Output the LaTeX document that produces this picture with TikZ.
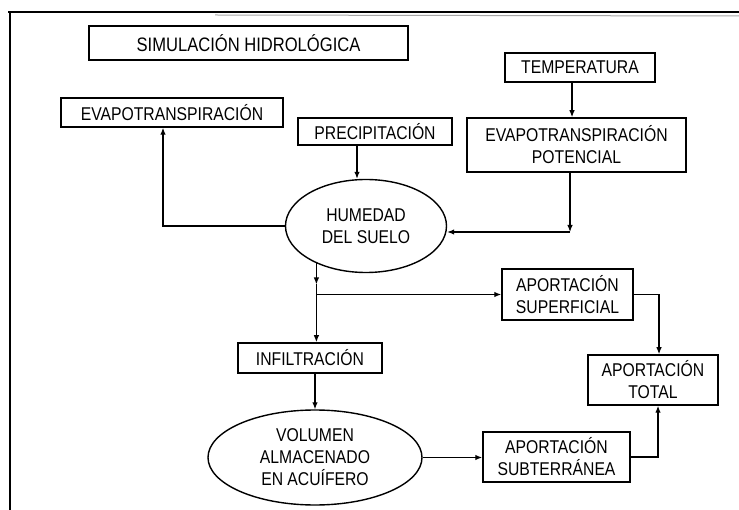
\documentclass[tikz,border=0pt]{standalone}
\usepackage{fontspec}
\setmainfont{Liberation Sans}[FakeStretch=0.85]
\usetikzlibrary{shapes.geometric,arrows.meta}

\begin{document}
\begin{tikzpicture}[x=1pt,y=-1pt,
  every node/.style={inner sep=0pt,align=center,text=black,
    font=\fontsize{18.5}{22}\selectfont},
  procbox/.style={draw,line width=1.5pt,rectangle},
  store/.style={draw,line width=1.4pt,ellipse},
  arr/.style={line width=1.2pt,-{Latex[length=7pt,width=5.5pt]}},
  link/.style={line width=1.2pt}]

  % page area and scanned frame
  \useasboundingbox (0,0) rectangle (739,510);
  \fill[white] (0,0) rectangle (739,510);
  \draw[line width=2.4pt] (8,12) -- (739,12);
  \draw[line width=2.4pt] (10,12) -- (10,510);
  \draw[black!35,line width=1pt] (215,15) -- (739,16);

  % boxes
  \node[procbox,minimum width=319pt,minimum height=34pt,
        font=\fontsize{19.5}{22}\selectfont] (sim) at (248.5,43) {SIMULACIÓN HIDROLÓGICA};
  \node[procbox,minimum width=222pt,minimum height=29pt] (evt) at (172,112.5) {EVAPOTRANSPIRACIÓN};
  \node[procbox,minimum width=154pt,minimum height=27pt] (prec) at (375,131.5) {PRECIPITACIÓN};
  \node[procbox,minimum width=150pt,minimum height=29pt] (temp) at (580,67.5) {TEMPERATURA};
  \node[procbox,minimum width=219pt,minimum height=54pt] (etp) at (576.5,145) {EVAPOTRANSPIRACIÓN\\POTENCIAL};
  \node[store,minimum width=161pt,minimum height=93pt] (hum) at (366,226) {HUMEDAD\\DEL SUELO};
  \node[procbox,minimum width=131pt,minimum height=51pt] (sup) at (567.5,294.5) {APORTACIÓN\\SUPERFICIAL};
  \node[procbox,minimum width=144pt,minimum height=30pt] (inf) at (310,358) {INFILTRACIÓN};
  \node[procbox,minimum width=130pt,minimum height=50pt] (tot) at (653,380) {APORTACIÓN\\TOTAL};
  \node[store,minimum width=214pt,minimum height=95pt] (vol) at (315,457.5) {VOLUMEN\\ALMACENADO\\EN ACUÍFERO};
  \node[procbox,minimum width=147pt,minimum height=50pt] (sub) at (556.5,457) {APORTACIÓN\\SUBTERRÁNEA};

  % connectors
  \draw[arr] ([xshift=-8pt]temp.south) -- ([xshift=-8pt]temp.south |- etp.north);
  \draw[arr] ([xshift=-18pt]prec.south) -- ([xshift=-9pt]hum.north);

  \coordinate (etpc) at ([xshift=-6.5pt]etp.south |- 0,232);
  \draw[arr] ([xshift=-6.5pt]etp.south) -- (etpc);
  \draw[arr] (etpc) -- (etpc -| hum.east);

  \draw[arr] (hum.west) -| ([xshift=-9pt]evt.south);

  \coordinate (split) at (hum.217 |- sup.west);
  \draw[arr] (hum.217) -- ([yshift=10pt]split);
  \draw[link] ([yshift=10pt]split) -- (split);
  \draw[arr] (split) -- (sup.west);
  \draw[arr] (split) -- (split |- inf.north);

  \draw[arr] (vol.north |- inf.south) -- (vol.north);
  \draw[arr] (vol.east) -- (vol.east -| sub.west);

  \draw[arr] (sup.east) -| ([xshift=6pt]tot.north);
  \draw[arr] (sub.east) -| ([xshift=5pt]tot.south);
\end{tikzpicture}
\end{document}
